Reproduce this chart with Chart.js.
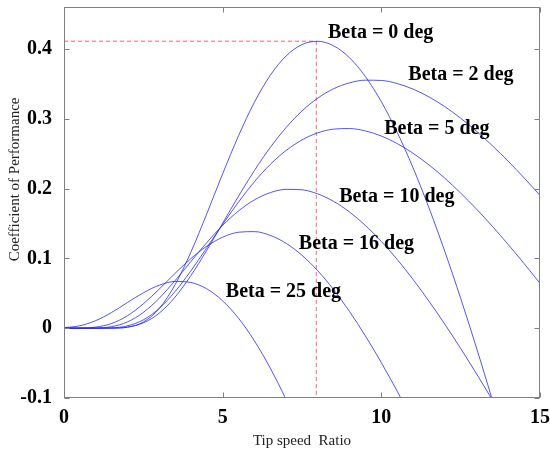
<!DOCTYPE html>
<html lang="en">
<head>
<meta charset="UTF-8">
<title>Coefficient of Performance</title>
<script src="https://cdn.jsdelivr.net/npm/chart.js"></script>
<style>
  body { margin: 0; background: #fff; }
</style>
</head>
<body>
<canvas id="cpChart" width="550" height="452"></canvas>
<script>
// tip speed ratio samples
const tsr = [0, 0.5, 1, 1.5, 2, 2.5, 3, 3.5, 4, 4.5, 5, 5.5, 6, 6.5, 7, 7.5,
             8, 8.5, 9, 9.5, 10, 10.5, 11, 11.5, 12, 12.5, 13, 13.5, 14, 14.5, 15];

// Cp values (curves end once they leave the plot)
const cpBeta0 = [0, 0, 0, 0.0001, 0.0014, 0.0088, 0.0282, 0.0622, 0.1091, 0.1639, 0.2211, 0.2756,
                 0.3235, 0.3621, 0.3899, 0.4062, 0.4109, 0.4043, 0.3872, 0.3602, 0.3243, 0.2805,
                 0.2296, 0.1725, 0.1099, 0.0428, -0.0284, -0.1029, -0.1801];
const cpBeta2 = [0, 0, 0, 0.0001, 0.0015, 0.0076, 0.0215, 0.0445, 0.0754, 0.1116, 0.1504, 0.1891,
                 0.2257, 0.2588, 0.2874, 0.3111, 0.3296, 0.3430, 0.3514, 0.3552, 0.3548, 0.3504,
                 0.3424, 0.3313, 0.3173, 0.3007, 0.2820, 0.2613, 0.2390, 0.2152, 0.1902];
const cpBeta5 = [0, 0, 0, 0.0004, 0.0033, 0.0119, 0.0283, 0.0524, 0.0822, 0.1152, 0.1487, 0.1807,
                 0.2097, 0.2345, 0.2545, 0.2696, 0.2798, 0.2851, 0.2859, 0.2825, 0.2752, 0.2644,
                 0.2505, 0.2339, 0.2148, 0.1935, 0.1705, 0.1458, 0.1197, 0.0925, 0.0643];
const cpBeta10 = [0, 0, 0.0002, 0.0022, 0.0090, 0.0225, 0.0429, 0.0681, 0.0955, 0.1226, 0.1473, 0.1679,
                  0.1837, 0.1941, 0.1988, 0.1982, 0.1922, 0.1815, 0.1663, 0.1471, 0.1243, 0.0984,
                  0.0698, 0.0387, 0.0057, -0.0291, -0.0654, -0.1028, -0.1412];
const cpBeta16 = [0, 0.0001, 0.0015, 0.0067, 0.0178, 0.0349, 0.0560, 0.0785, 0.0997, 0.1174, 0.1303,
                  0.1374, 0.1383, 0.1329, 0.1215, 0.1044, 0.0820, 0.0550, 0.0237, -0.0112, -0.0494,
                  -0.0903, -0.1335];
const cpBeta25 = [0.0006, 0.0035, 0.0108, 0.0225, 0.0367, 0.0507, 0.0615, 0.0669, 0.0654, 0.0563,
                  0.0391, 0.0142, -0.0181, -0.0572, -0.1023, -0.1529];

// optimum point of the Beta = 0 curve
const optTsr = 7.95;
const optCp = 0.411;

const xTicks = [0, 5, 10, 15];
const yTicks = [-0.1, 0, 0.1, 0.2, 0.3, 0.4];

// curve labels, anchored in data units (left edge, baseline)
const labelText = ['Beta = 0 deg', 'Beta = 2 deg', 'Beta = 5 deg', 'Beta = 10 deg', 'Beta = 16 deg', 'Beta = 25 deg'];
const labelX = [8.32, 10.85, 10.09, 8.67, 7.40, 5.10];
const labelY = [0.416, 0.355, 0.278, 0.181, 0.113, 0.045];

const yTitle = 'Coefficient of Performance';
const yTitleAt = 0.213;   // vertical centre of the y title, in Cp units

const serif = "'Liberation Serif', 'Times New Roman', serif";
const curveColor = 'rgba(40, 40, 255, 0.8)';

function toPoints(values) {
    return values.map((v, i) => ({ x: tsr[i], y: v }));
}

function curve(values) {
    return {
        data: toPoints(values),
        borderColor: curveColor,
        borderWidth: 1,
        pointRadius: 0,
        cubicInterpolationMode: 'monotone',
        clip: 0
    };
}

// frame, inward ticks, curve labels and the y title
const framePlugin = {
    id: 'frame',
    afterDatasetsDraw(chart) {
        const { ctx, chartArea: a, scales: { x, y } } = chart;
        const l = Math.round(a.left) + 0.5, r = Math.round(a.right) - 0.5;
        const t = Math.round(a.top) + 0.5, b = Math.round(a.bottom) - 0.5;
        ctx.save();
        ctx.strokeStyle = '#808080';
        ctx.lineWidth = 1;
        ctx.strokeRect(l, t, r - l, b - t);
        ctx.beginPath();
        xTicks.forEach(v => {
            const px = Math.round(x.getPixelForValue(v)) + 0.5;
            ctx.moveTo(px, b); ctx.lineTo(px, b - 5);
            ctx.moveTo(px, t); ctx.lineTo(px, t + 5);
        });
        yTicks.forEach(v => {
            const py = Math.round(y.getPixelForValue(v)) + 0.5;
            ctx.moveTo(l, py); ctx.lineTo(l + 5, py);
            ctx.moveTo(r, py); ctx.lineTo(r - 5, py);
        });
        ctx.stroke();

        ctx.fillStyle = '#000';
        ctx.font = 'bold 20px ' + serif;
        ctx.textAlign = 'left';
        ctx.textBaseline = 'alphabetic';
        labelText.forEach((txt, i) => {
            ctx.fillText(txt, x.getPixelForValue(labelX[i]), y.getPixelForValue(labelY[i]));
        });

        ctx.fillStyle = '#222';
        ctx.font = '15px ' + serif;
        ctx.textAlign = 'center';
        ctx.textBaseline = 'middle';
        ctx.translate(15, y.getPixelForValue(yTitleAt));
        ctx.rotate(-Math.PI / 2);
        ctx.fillText(yTitle, 0, 0);
        ctx.restore();
    }
};

const ctx = document.getElementById('cpChart').getContext('2d');

new Chart(ctx, {
    type: 'line',
    data: {
        datasets: [
            curve(cpBeta0),
            curve(cpBeta2),
            curve(cpBeta5),
            curve(cpBeta10),
            curve(cpBeta16),
            curve(cpBeta25),
            {
                // dashed marker of the optimum
                data: [{ x: 0, y: optCp }, { x: optTsr, y: optCp }, { x: optTsr, y: -0.1 }],
                borderColor: 'rgba(255, 60, 60, 0.8)',
                borderWidth: 1,
                borderDash: [4, 3],
                pointRadius: 0,
                tension: 0,
                clip: 0
            }
        ]
    },
    options: {
        responsive: false,
        animation: false,
        devicePixelRatio: 1,
        layout: { padding: { top: 7, right: 10, left: 0, bottom: 0 } },
        plugins: {
            legend: { display: false },
            tooltip: { enabled: false }
        },
        scales: {
            x: {
                type: 'linear',
                min: 0,
                max: 15,
                grid: { display: false },
                border: { display: false },
                afterBuildTicks: scale => { scale.ticks = xTicks.map(v => ({ value: v })); },
                afterFit: scale => {
                    scale.height = 54;
                    scale.paddingLeft = 0;
                    scale.paddingRight = 0;
                },
                ticks: {
                    padding: 0,
                    maxRotation: 0,
                    color: '#000',
                    font: { family: serif, size: 20, weight: 'bold' },
                    callback: v => String(v)
                },
                title: {
                    display: true,
                    text: 'Tip speed  Ratio',
                    color: '#222',
                    font: { family: serif, size: 15 },
                    padding: { top: 0, bottom: 2 }
                }
            },
            y: {
                type: 'linear',
                min: -0.1,
                max: 0.46,
                grid: { display: false },
                border: { display: false },
                afterBuildTicks: scale => { scale.ticks = yTicks.map(v => ({ value: v })); },
                afterFit: scale => {
                    scale.width = 64;
                    scale.paddingTop = 0;
                    scale.paddingBottom = 0;
                },
                ticks: {
                    padding: 4,
                    color: '#000',
                    font: { family: serif, size: 20, weight: 'bold' },
                    callback: v => String(v)
                }
            }
        }
    },
    plugins: [framePlugin]
});
</script>
</body>
</html>
